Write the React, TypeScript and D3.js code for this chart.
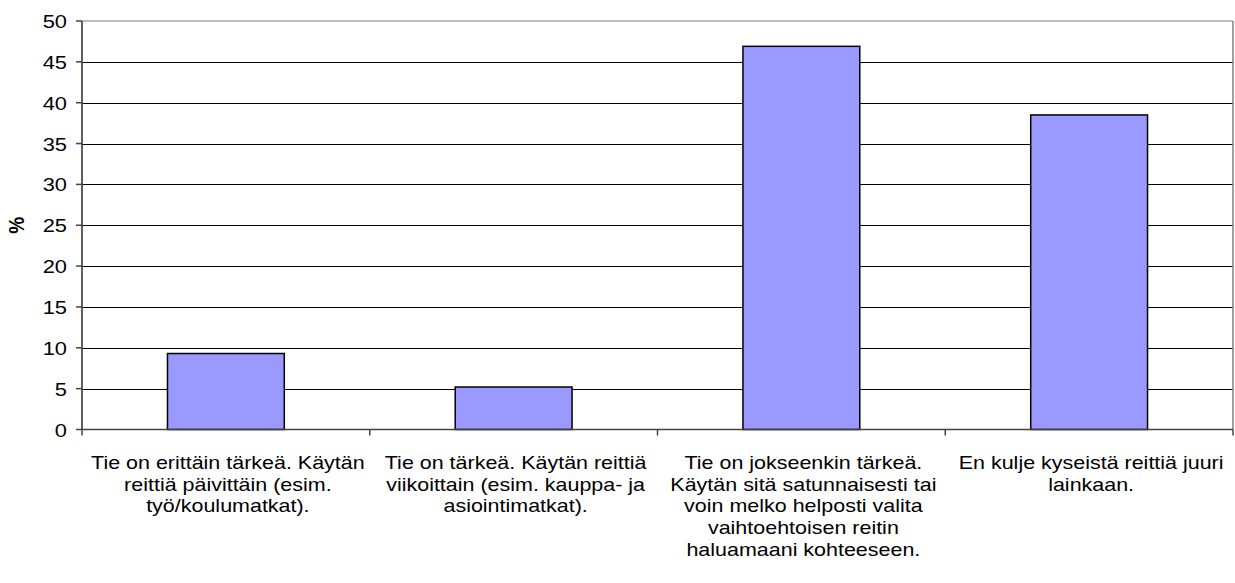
import React from "react";
import * as d3 from "d3";

const categories = ["c1", "c2", "c3", "c4"];
const values = [9.3, 5.2, 46.9, 38.5];
const labelLines = [
  ["Tie on erittäin tärkeä. Käytän", "reittiä päivittäin (esim.", "työ/koulumatkat)."],
  ["Tie on tärkeä. Käytän reittiä", "viikoittain (esim. kauppa- ja", "asiointimatkat)."],
  ["Tie on jokseenkin tärkeä.", "Käytän sitä satunnaisesti tai", "voin melko helposti valita", "vaihtoehtoisen reitin", "haluamaani kohteeseen."],
  ["En kulje kyseistä reittiä juuri", "lainkaan."],
];
const yTicks = [0, 5, 10, 15, 20, 25, 30, 35, 40, 45, 50];
const yTitle = "%";

export default function App() {
  const W = 1235, H = 583;
  const left = 82, right = 1233, top = 21, bottom = 429.5;
  const x = d3.scaleBand<string>().domain(categories).range([left, right]).padding(0);
  const y = d3.scaleLinear().domain([0, 50]).range([bottom, top]);
  const bw = x.bandwidth();
  const barW = bw * 0.406;
  const font = "Arial, 'Liberation Sans', sans-serif";
  const sx = 1.15;
  return (
    <svg width={W} height={H} style={{ position: "absolute", left: 0, top: 0, background: "#fff" }}>
      <rect x={0} y={0} width={W} height={H} fill="#fff" />
      {/* gridlines */}
      {yTicks.filter((t) => t > 0 && t < 50).map((t) => (
        <line key={t} x1={left} x2={right} y1={Math.round(y(t)) + 0.5} y2={Math.round(y(t)) + 0.5} stroke="#000" strokeWidth={1} />
      ))}
      {/* plot border top & right */}
      <line x1={left} x2={right} y1={y(50)} y2={y(50)} stroke="#808080" strokeWidth={1.2} />
      <line x1={right} x2={right} y1={y(50)} y2={bottom} stroke="#808080" strokeWidth={1.5} />
      {/* bars */}
      {categories.map((c, i) => (
        <rect key={c} x={x(c)! + (bw - barW) / 2} y={y(values[i])} width={barW} height={bottom - y(values[i])}
          fill="#9999FF" stroke="#000" strokeWidth={1.5} />
      ))}
      {/* axes */}
      <line x1={left} x2={left} y1={top} y2={bottom} stroke="#444" strokeWidth={1.7} />
      <line x1={left} x2={right} y1={bottom} y2={bottom} stroke="#444" strokeWidth={1.7} />
      {yTicks.map((t) => (
        <g key={t}>
          <line x1={left - 6} x2={left} y1={y(t)} y2={y(t)} stroke="#444" strokeWidth={1.5} />
          <text transform={`translate(${left - 15},${y(t) + 7}) scale(${sx},1)`} textAnchor="end" fontFamily={font} fontSize={19} fill="#000">{t}</text>
        </g>
      ))}
      {[...categories.map((c) => x(c)!), right].map((v, i) => (
        <line key={i} x1={v} x2={v} y1={bottom} y2={bottom + 6} stroke="#444" strokeWidth={1.5} />
      ))}
      {categories.map((c, i) => (
        <g key={c}>
          {labelLines[i].map((ln, j) => (
            <text key={j} transform={`translate(${x(c)! + bw / 2 + 2},${469 + j * 21.7}) scale(1.13,1)`} textAnchor="middle" fontFamily={font} fontSize={19} fill="#000">{ln}</text>
          ))}
        </g>
      ))}
      <text transform={`translate(24,${(top + bottom) / 2}) rotate(-90) scale(1,${sx})`} textAnchor="middle" fontFamily={font} fontSize={19} fontWeight="bold" fill="#000">{yTitle}</text>
    </svg>
  );
}
